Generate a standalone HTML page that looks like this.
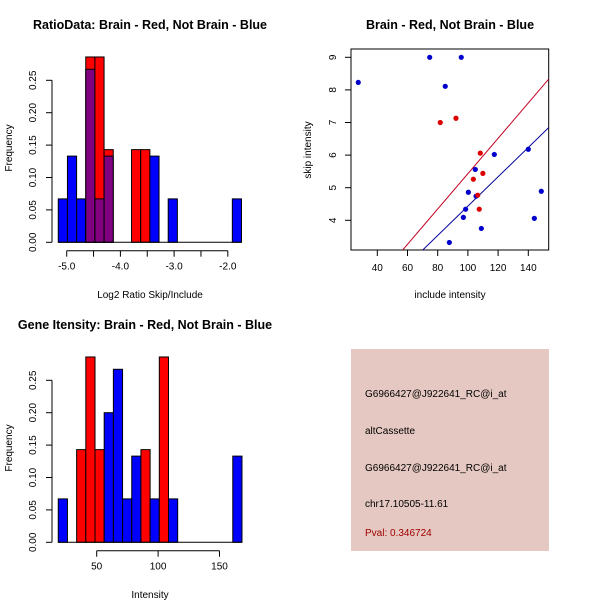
<!DOCTYPE html>
<html><head><meta charset="utf-8"><style>
body{margin:0;background:#fff}
svg{display:block;font-family:"Liberation Sans",Arial,sans-serif}
</style></head><body>
<svg id="s" width="600" height="600" viewBox="0 0 600 600">
<text x="150" y="29" font-size="12.5" font-weight="bold" text-anchor="middle">RatioData: Brain - Red, Not Brain - Blue</text>
<text x="450" y="29" font-size="12.5" font-weight="bold" text-anchor="middle">Brain - Red, Not Brain - Blue</text>
<text x="145" y="329" font-size="12.5" font-weight="bold" text-anchor="middle">Gene Itensity: Brain - Red, Not Brain - Blue</text>
<text x="150" y="298" font-size="10" text-anchor="middle">Log2 Ratio Skip/Include</text>
<text x="150" y="598" font-size="10" text-anchor="middle">Intensity</text>
<text x="450" y="298" font-size="10" text-anchor="middle">include intensity</text>
<text transform="translate(12,148) rotate(-90)" font-size="10" text-anchor="middle">Frequency</text>
<text transform="translate(12,448) rotate(-90)" font-size="10" text-anchor="middle">Frequency</text>
<text transform="translate(311,150) rotate(-90)" font-size="10" text-anchor="middle">skip intensity</text>
<g>
<rect x="351" y="349" width="198" height="202" fill="#e5c8c1"/>
<text x="365" y="397" font-size="10">G6966427@J922641_RC@i_at</text>
<text x="365" y="434" font-size="10">altCassette</text>
<text x="365" y="471" font-size="10">G6966427@J922641_RC@i_at</text>
<text x="365" y="507" font-size="10">chr17.10505-11.61</text>
<text x="365" y="536" font-size="10" fill="#a00000">Pval: 0.346724</text>
</g>
</svg>
<script>
// Ratio histogram data (bin index -> frequency)
const ratioBinStart=-5.157, ratioBinWidth=0.1706;
const ratioBlue=[0.067,0.133,0.067,0.267,0.067,0.133,0,0,0,0,0.133,0,0.067,0,0,0,0,0,0,0.067];
const ratioRed=[0,0,0,0.286,0.286,0.143,0,0,0.143,0.143,0,0,0,0,0,0,0,0,0,0];
const ratioTicks=[-5,-4.5,-4,-3.5,-3,-2.5,-2];
const ratioTickLabels=["-5.0","","-4.0","","-3.0","","-2.0"];
// Intensity histogram
const intBinStart=18.7, intBinWidth=7.48;
const intBlue=[0.067,0,0,0,0,0.2,0.267,0.067,0.133,0,0.067,0,0.067,0,0,0,0,0,0,0.133];
const intRed=[0,0,0.143,0.286,0.143,0,0,0,0,0.143,0,0.286,0,0,0,0,0,0,0,0];
const intTicks=[50,100,150];
const freqTicks=[0,0.05,0.10,0.15,0.20,0.25];
const freqLabels=["0.00","0.05","0.10","0.15","0.20","0.25"];
// Scatter
const blueX=[27.4,74.7,95.6,85.0,117.5,140,104.9,100.3,105.4,98.5,97,108.9,87.7,148.6,144];
const blueY=[8.23,9,9,8.11,6.02,6.18,5.56,4.86,4.74,4.34,4.09,3.75,3.32,4.89,4.06];
const redX=[81.7,92.1,108.2,109.9,103.6,106.5,107.5];
const redY=[7.0,7.13,6.06,5.44,5.26,4.77,4.34];
const redFit=[0.011,0.0542];
const blueFit=[-0.065,0.045];
const scX=[40,60,80,100,120,140];
const scY=[4,5,6,7,8,9];

const NS="http://www.w3.org/2000/svg", svg=document.getElementById('s');
function mk(t,a,p){const e=document.createElementNS(NS,t);for(const k in a)e.setAttribute(k,a[k]);(p||svg).appendChild(e);return e;}

function hist(x0,pxPerUnit,zeroY,binStart,binW,blue,red,ticks,labels,tickY,name,overlap){
  const fy=v=>zeroY-v*648;
  const fx=v=>x0+(v)*pxPerUnit;
  const g=mk('g',{});
  
  
  for(let i=0;i<blue.length;i++){
    const a=fx(binStart+i*binW), b=fx(binStart+(i+1)*binW);
    const r=red[i], bl=blue[i];
    if(r>0){const e=mk('rect',{x:a,y:fy(r),width:b-a,height:zeroY-fy(r),fill:'#ff0000',stroke:'#000','stroke-width':1},g);
      }
    if(bl>0){const col=(overlap&&r>0)?'#800080':'#0000ff';
      const e=mk('rect',{x:a,y:fy(bl),width:b-a,height:zeroY-fy(bl),fill:col,stroke:'#000','stroke-width':1},g);
      }
  }
  const base=mk('line',{x1:fx(binStart),x2:fx(binStart+blue.length*binW),y1:zeroY,y2:zeroY,stroke:'#000'},g);
  
  const ax=mk('g',{},g);
  
  mk('line',{x1:52,x2:52,y1:fy(0),y2:fy(0.25),stroke:'#000'},ax);
  freqTicks.forEach((t,i)=>{mk('line',{x1:46,x2:52,y1:fy(t),y2:fy(t),stroke:'#000'},ax);
    const tx=mk('text',{transform:`translate(36,${fy(t)}) rotate(-90)`,'font-size':10,'text-anchor':'middle'},ax);tx.textContent=freqLabels[i];});
  const xa=mk('g',{},g);
  
  mk('line',{x1:fx(ticks[0]),x2:fx(ticks[ticks.length-1]),y1:tickY,y2:tickY,stroke:'#000'},xa);
  ticks.forEach((t,i)=>{mk('line',{x1:fx(t),x2:fx(t),y1:tickY,y2:tickY+6,stroke:'#000'},xa);
    const tx=mk('text',{x:fx(t),y:tickY+19,'font-size':10,'text-anchor':'middle'},xa);tx.textContent=labels[i];});
}
hist(66.7+5*53.7,53.7,242.3,ratioBinStart,ratioBinWidth,ratioBlue,ratioRed,ratioTicks,ratioTickLabels,250.7,'ratio',true);
hist(96.7-50*1.228,1.228,542.3,intBinStart,intBinWidth,intBlue,intRed,intTicks,intTicks.map(String),550.7,'intensity',false);

const L=351,R=548.7,T=49,B=250;
const sx=v=>377.3+(v-40)*1.51, sy=v=>57.3+(9-v)*32.6;
const sg=mk('g',{});

const box=mk('rect',{x:L,y:T,width:R-L,height:B-T,fill:'none',stroke:'#000'},sg);

const cp=mk('clipPath',{id:'cp'},sg);
mk('rect',{x:L,y:T,width:R-L,height:B-T},cp);
scX.forEach(t=>{mk('line',{x1:sx(t),x2:sx(t),y1:B,y2:B+6,stroke:'#000'},sg);
  const tx=mk('text',{x:sx(t),y:B+21,'font-size':10,'text-anchor':'middle'},sg);tx.textContent=t;});
scY.forEach(t=>{mk('line',{x1:L-6,x2:L,y1:sy(t),y2:sy(t),stroke:'#000'},sg);
  const tx=mk('text',{transform:`translate(${L-15},${sy(t)}) rotate(-90)`,'font-size':10,'text-anchor':'middle'},sg);tx.textContent=t;});
[[redFit,'#c00020','red-fit-line'],[blueFit,'#000099','blue-fit-line']].forEach(([f,c,n])=>{
  const e=mk('line',{x1:sx(0),y1:sy(f[0]),x2:sx(200),y2:sy(f[0]+f[1]*200),stroke:c,'clip-path':'url(#cp)'},sg);
  });
blueX.forEach((v,i)=>{const e=mk('circle',{cx:sx(v),cy:sy(blueY[i]),r:2.6,fill:'#0000cc'},sg);
  });
redX.forEach((v,i)=>{const e=mk('circle',{cx:sx(v),cy:sy(redY[i]),r:2.6,fill:'#dd0000'},sg);
  });
</script>
</body></html>
